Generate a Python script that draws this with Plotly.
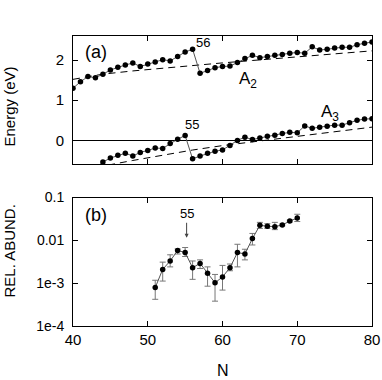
import plotly.graph_objects as go

font = dict(family='Liberation Sans, Arial, sans-serif', size=15, color='black')

# panel (a): energies vs N
n_a2 = list(range(40, 81))
a2 = [1.30, 1.46, 1.59, 1.56, 1.65, 1.75, 1.82, 1.88, 1.93, 1.84,
      1.90, 1.95, 2.01, 1.98, 2.09, 2.20, 2.27, 1.67, 1.74, 1.81,
      1.84, 1.85, 1.94, 2.04, 2.12, 2.06, 2.09, 2.12, 2.14, 2.17,
      2.19, 2.17, 2.33, 2.25, 2.27, 2.30, 2.32, 2.32, 2.38, 2.42, 2.45]

n_a3 = list(range(43, 81))
a3 = [-0.70, -0.54, -0.44, -0.37, -0.32, -0.39, -0.30, -0.25, -0.19, -0.20,
      -0.08, 0.03, 0.12, -0.46, -0.39, -0.32, -0.27, -0.24, -0.13, 0.00,
      0.08, 0.02, 0.06, 0.10, 0.13, 0.17, 0.20, 0.19, 0.36, 0.30,
      0.33, 0.35, 0.38, 0.38, 0.44, 0.50, 0.53, 0.54]

n_fit = [40, 44, 48, 52, 56, 60, 64, 68, 72, 76, 80]
a2_fit = [1.52, 1.65, 1.73, 1.80, 1.87, 1.93, 1.99, 2.05, 2.11, 2.17, 2.23]
a3_fit = [-0.82, -0.64, -0.50, -0.37, -0.24, -0.13, -0.04, 0.06, 0.15, 0.24, 0.33]

# panel (b): relative abundance with error bars
n_ab = list(range(51, 71))
abund = [7.9e-4, 2.1e-3, 3.3e-3, 5.8e-3, 5.2e-3, 2.3e-3, 2.9e-3, 1.7e-3, 1.02e-3, 1.4e-3,
         2.3e-3, 5.2e-3, 4.8e-3, 0.011, 0.0224, 0.0214, 0.0209, 0.0229, 0.0282, 0.0331]
ab_hi = [1.17e-3, 3.1e-3, 4.6e-3, 6.3e-3, 6.8e-3, 3.3e-3, 3.5e-3, 2.4e-3, 1.6e-3, 2.6e-3,
         2.8e-3, 8.1e-3, 6.2e-3, 0.0145, 0.0263, 0.0245, 0.0263, 0.024, 0.0295, 0.0407]
ab_lo = [4.2e-4, 1.12e-3, 2.4e-3, 4.8e-3, 4.2e-3, 1.23e-3, 2.2e-3, 8.5e-4, 3.8e-4, 6.9e-4,
         1.95e-3, 2.4e-3, 3.5e-3, 7.8e-3, 0.019, 0.019, 0.0178, 0.0219, 0.0269, 0.0275]

x_ticks = [40, 50, 60, 70, 80]
ab_tickvals = [1e-4, 1e-3, 1e-2, 1e-1]
ab_ticktext = ['1e-4', '1e-3', '0.01', '0.1']

dot = dict(color='black', size=5.5)
link = dict(color='#555555', width=1)
dashed = dict(color='black', width=1, dash='7px,5px')

fig = go.Figure()
fig.add_trace(go.Scatter(x=n_fit, y=a2_fit, mode='lines', line=dashed, xaxis='x', yaxis='y'))
fig.add_trace(go.Scatter(x=n_fit, y=a3_fit, mode='lines', line=dashed, xaxis='x', yaxis='y'))
fig.add_trace(go.Scatter(x=n_a2, y=a2, mode='lines+markers', line=link, marker=dot, xaxis='x', yaxis='y'))
fig.add_trace(go.Scatter(x=n_a3, y=a3, mode='lines+markers', line=link, marker=dot, xaxis='x', yaxis='y'))
fig.add_trace(go.Scatter(
    x=n_ab, y=abund, mode='lines+markers', line=link, marker=dot,
    error_y=dict(type='data',
                 array=[h - v for h, v in zip(ab_hi, abund)],
                 arrayminus=[v - l for v, l in zip(abund, ab_lo)],
                 color='#777777', thickness=1, width=3),
    xaxis='x2', yaxis='y2'))

axis_style = dict(showline=True, linecolor='black', linewidth=1, mirror='allticks',
                  ticks='inside', ticklen=5, tickcolor='black', showgrid=False,
                  automargin=False, tickfont=font)


def note(text, x, y, xref='paper', yref='paper', size=15, **kw):
    return dict(text=text, xref=xref, yref=yref, x=x, y=y, xanchor='center',
                yanchor='middle', showarrow=False, font=dict(font, size=size), **kw)


fig.update_layout(
    width=382, height=380,
    margin=dict(l=73, r=10, t=36, b=54),
    paper_bgcolor='white', plot_bgcolor='white',
    showlegend=False,
    font=font,
    xaxis=dict(range=[40, 80], tickvals=x_ticks, showticklabels=False,
               anchor='y', zeroline=False, **axis_style),
    yaxis=dict(range=[-0.6, 2.6], domain=[0.557, 1], tickvals=[0, 1, 2],
               zeroline=True, zerolinecolor='black', zerolinewidth=1,
               anchor='x', ticklabelstandoff=5, **axis_style),
    xaxis2=dict(range=[40, 80], tickvals=x_ticks, anchor='y2', zeroline=False, **axis_style),
    yaxis2=dict(type='log', range=[-4, -1], domain=[0, 0.443],
                tickvals=ab_tickvals, ticktext=ab_ticktext, anchor='x2',
                ticklabelstandoff=5,
                **{**axis_style, 'tickfont': dict(font, size=14)}),
    annotations=[
        note('Energy (eV)', -0.213, 0.758, textangle=-90),
        note('REL. ABUND.', -0.213, 0.258, textangle=-90),
        note('N', 0.502, -0.152, size=16),
        note('(a)', 0.078, 0.945, size=18),
        note('(b)', 0.078, 0.382, size=18),
        note('56', 57.4, 2.44, 'x', 'y', size=13),
        note('55', 55.9, 0.40, 'x', 'y', size=13),
        note('A<sub>2</sub>', 63.4, 1.50, 'x', 'y', size=17),
        note('A<sub>3</sub>', 74.4, 0.68, 'x', 'y', size=17),
        dict(text='55', xref='x2', yref='y2', x=55.2, y=-1.94,
             showarrow=True, ax=0, ay=-24, arrowhead=2, arrowsize=0.8,
             arrowwidth=1, arrowcolor='#444444', font=dict(font, size=13)),
    ],
)

# page body has a default 8px margin; drop it so the figure sits at the corner
fig.write_html("out.html", config={'displayModeBar': False},
               post_script="document.body.style.margin='0';document.body.style.overflow='hidden';")
